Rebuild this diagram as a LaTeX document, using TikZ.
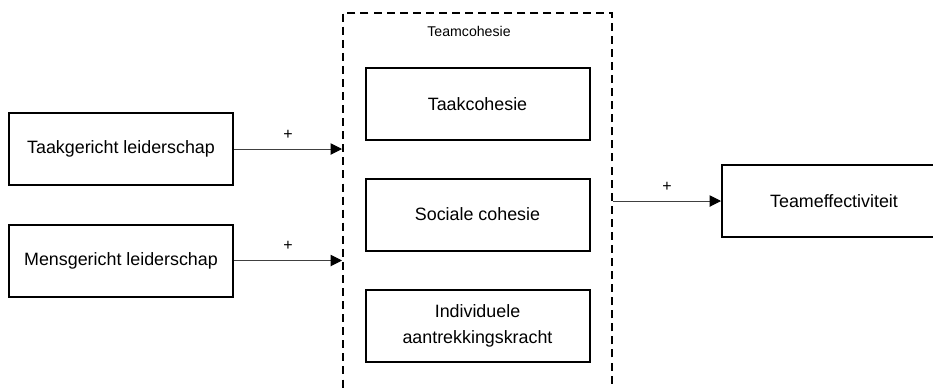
\documentclass[tikz,border=0pt]{standalone}
\usepackage{fontspec}
\setmainfont{Liberation Sans}
\usetikzlibrary{arrows.meta}
\tikzset{
  box/.style={draw=black, line width=1.5pt, fill=white, minimum width=168pt, minimum height=54pt, inner sep=0pt, align=center, font=\fontsize{13.4}{19}\selectfont},
  groupbox/.style={draw=black, line width=1.5pt, dash pattern=on 6pt off 3.8pt, minimum width=201.75pt, minimum height=282pt, inner sep=0pt},
  conn/.style={draw=black!75, line width=0.75pt, -{Triangle[length=8.5pt,width=8.5pt,fill=black,color=black]}},
  plus/.style={font=\fontsize{12}{14}\selectfont, inner sep=0pt}
}
\begin{document}
\begin{tikzpicture}[x=0.75pt,y=-0.75pt]
\useasboundingbox (0,0) rectangle (933,387);
\clip (0,0) rectangle (933,387);
\node[groupbox] (team) at (477.5,201) {};
\node[font=\fontsize{10.6}{12}\selectfont] (teamlbl) at (469,31) {Teamcohesie};
\node[box] (taak) at (121,149) {Taakgericht leiderschap};
\node[box] (mens) at (121,260.5) {Mensgericht leiderschap};
\node[box] (tcoh) at (477.5,104) {Taakcohesie};
\node[box] (scoh) at (477.5,214.5) {Sociale cohesie};
\node[box] (icoh) at (477.5,326) {Individuele\\aantrekkingskracht};
\node[box] (eff) at (834,201) {Teameffectiviteit};
\draw[conn] (taak.east) -- node[plus, above=7pt] (p1) {+} (team.west |- taak.east);
\draw[conn] (mens.east) -- node[plus, above=7pt] (p2) {+} (team.west |- mens.east);
\draw[conn] (team.east |- eff.west) -- node[plus, above=7pt] (p3) {+} (eff.west);
\end{tikzpicture}
\end{document}
